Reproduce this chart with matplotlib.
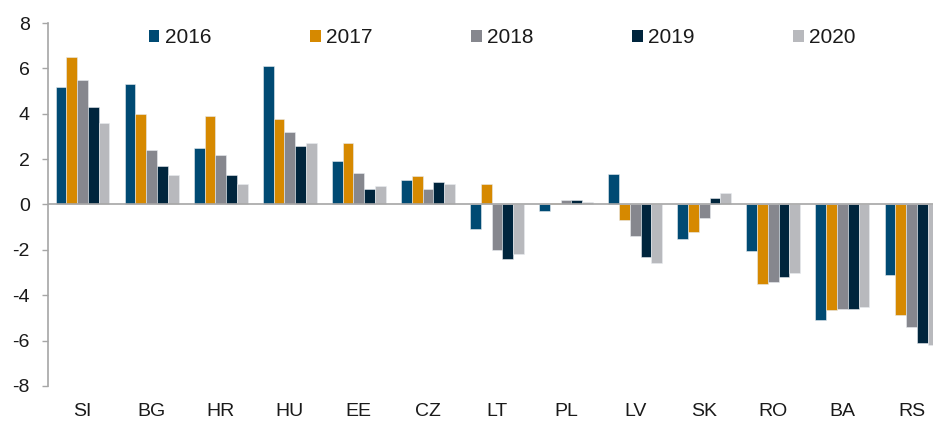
import matplotlib
matplotlib.use("Agg")
import matplotlib.pyplot as plt
import numpy as np

plt.rcParams['font.family'] = ['Liberation Sans', 'DejaVu Sans']

categories = ["SI", "BG", "HR", "HU", "EE", "CZ", "LT", "PL", "LV", "SK", "RO", "BA", "RS"]
years = ["2016", "2017", "2018", "2019", "2020"]
v2016 = [5.2, 5.3, 2.5, 6.1, 1.9, 1.1, -1.1, -0.3, 1.35, -1.5, -2.05, -5.1, -3.1]
v2017 = [6.5, 4.0, 3.9, 3.75, 2.7, 1.25, 0.9, 0.05, -0.7, -1.2, -3.5, -4.65, -4.85]
v2018 = [5.5, 2.4, 2.2, 3.2, 1.4, 0.7, -2.0, 0.2, -1.4, -0.6, -3.4, -4.6, -5.4]
v2019 = [4.3, 1.7, 1.3, 2.6, 0.7, 1.0, -2.4, 0.2, -2.3, 0.3, -3.2, -4.6, -6.1]
v2020 = [3.6, 1.3, 0.9, 2.7, 0.8, 0.9, -2.2, 0.1, -2.6, 0.5, -3.0, -4.5, -6.2]
series = [v2016, v2017, v2018, v2019, v2020]
colors = ["#004A73", "#D68900", "#86878E", "#00253D", "#B8B9BD"]
yticks = [-8, -6, -4, -2, 0, 2, 4, 6, 8]

W, H = 933, 421
fig = plt.figure(figsize=(W / 100, H / 100), dpi=100)
left, right, top, bottom = 48, 946, 23, 386
ax = fig.add_axes([left / W, 1 - bottom / H, (right - left) / W, (bottom - top) / H])

x = np.arange(len(categories))
bw = 0.156
for i, (vals, c, lab) in enumerate(zip(series, colors, years)):
    ax.bar(x + (i - 2) * bw, vals, width=bw, color=c, label=lab,
           edgecolor='#E8ECF0', linewidth=0.4, zorder=2)

ax.set_xlim(-0.5, len(categories) - 0.5)
ax.set_ylim(-8, 8)
ax.set_yticks(yticks)
ax.set_yticklabels([str(t) for t in yticks])
ax.set_xticks(x)
ax.set_xticklabels(categories)

ax.axhline(0, color='#A6A6A6', linewidth=1.2, zorder=3)
for s in ['top', 'right', 'bottom']:
    ax.spines[s].set_visible(False)
ax.spines['left'].set_color('#A6A6A6')
ax.spines['left'].set_linewidth(1.2)

ax.tick_params(axis='y', length=4.5, width=1.0, color='#A6A6A6', pad=8.5,
               labelsize=14, labelcolor='#1A1A1A')
ax.tick_params(axis='x', length=0, pad=12.5, labelsize=14, labelcolor='#1A1A1A')

leg = fig.legend(loc='center left', bbox_to_anchor=(149 / W, 1 - 37.5 / H), ncol=5,
                 frameon=False, fontsize=15, handlelength=0.5, handleheight=0.5,
                 handletextpad=0.25, columnspacing=4.75, borderpad=0, borderaxespad=0)
for t in leg.get_texts():
    t.set_color('#1A1A1A')
for h in leg.legend_handles:
    h.set_linewidth(0)

fig.savefig("out.png", dpi=100)
